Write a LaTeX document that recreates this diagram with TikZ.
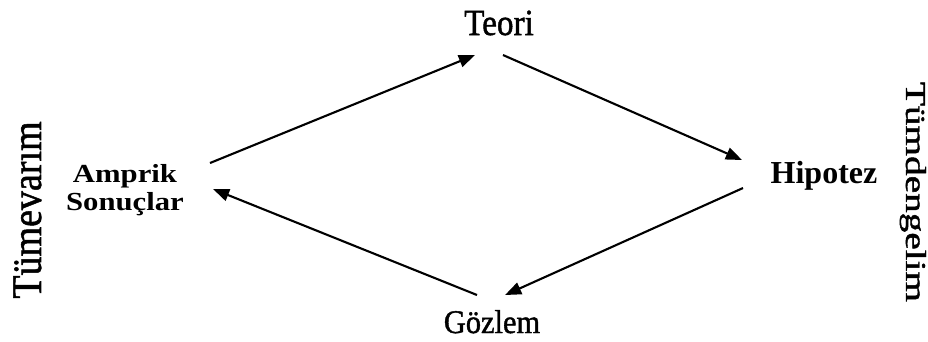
\documentclass[tikz,border=0pt]{standalone}
\usepackage{fontspec}
\setmainfont{Liberation Serif}
\newfontfamily\agir[FakeBold=1.3]{Liberation Serif}
\usepackage{graphicx}
\usetikzlibrary{arrows.meta}

\begin{document}
\begin{tikzpicture}[x=0.01cm, y=-0.01cm,
    ok/.style={-{Triangle[length=4.6pt,width=3.5pt]}, line width=0.6pt},
    etiket/.style={inner sep=0pt, anchor=base}]
    % sinirlar
    \useasboundingbox (0,0) rectangle (928,341);

    % kavramlar
    \node[etiket, font=\agir\fontsize{10.5}{12}\selectfont] (teori) at (499,35) {\scalebox{0.9}[1]{Teori}};
    \node[etiket, font=\bfseries\fontsize{9.1}{11}\selectfont] (hip) at (824,183) {Hipotez};
    \node[etiket, font=\agir\fontsize{9.4}{11}\selectfont] (goz) at (492,333) {\scalebox{0.92}[1]{Gözlem}};
    \node[inner sep=0pt, align=center, font=\bfseries\fontsize{7.4}{8}\selectfont] (amp) at (125,190)
        {\scalebox{1.18}[1]{Amprik}\\\scalebox{1.18}[1]{Sonuçlar}};

    % yan yazilar
    \node[etiket, rotate=90, font=\agir\fontsize{12}{14}\selectfont] (tv) at (41,210) {\scalebox{0.9}[1]{Tümevarım}};
    \node[etiket, rotate=-90, font=\agir\fontsize{8.2}{10}\selectfont] (td) at (906,192) {\scalebox{1.36}[1]{Tümdengelim}};

    % dongu
    \draw[ok] ([shift={(85,-27)}]amp.center) -- ([shift={(-24,20)}]teori.base);
    \draw[ok] ([shift={(4,20)}]teori.base) -- ([shift={(-82,-23)}]hip.base);
    \draw[ok] ([shift={(-81,5)}]hip.base) -- ([shift={(13,-38)}]goz.base);
    \draw[ok] ([shift={(-15,-38)}]goz.base) -- ([shift={(88,-1)}]amp.center);
\end{tikzpicture}
\end{document}
